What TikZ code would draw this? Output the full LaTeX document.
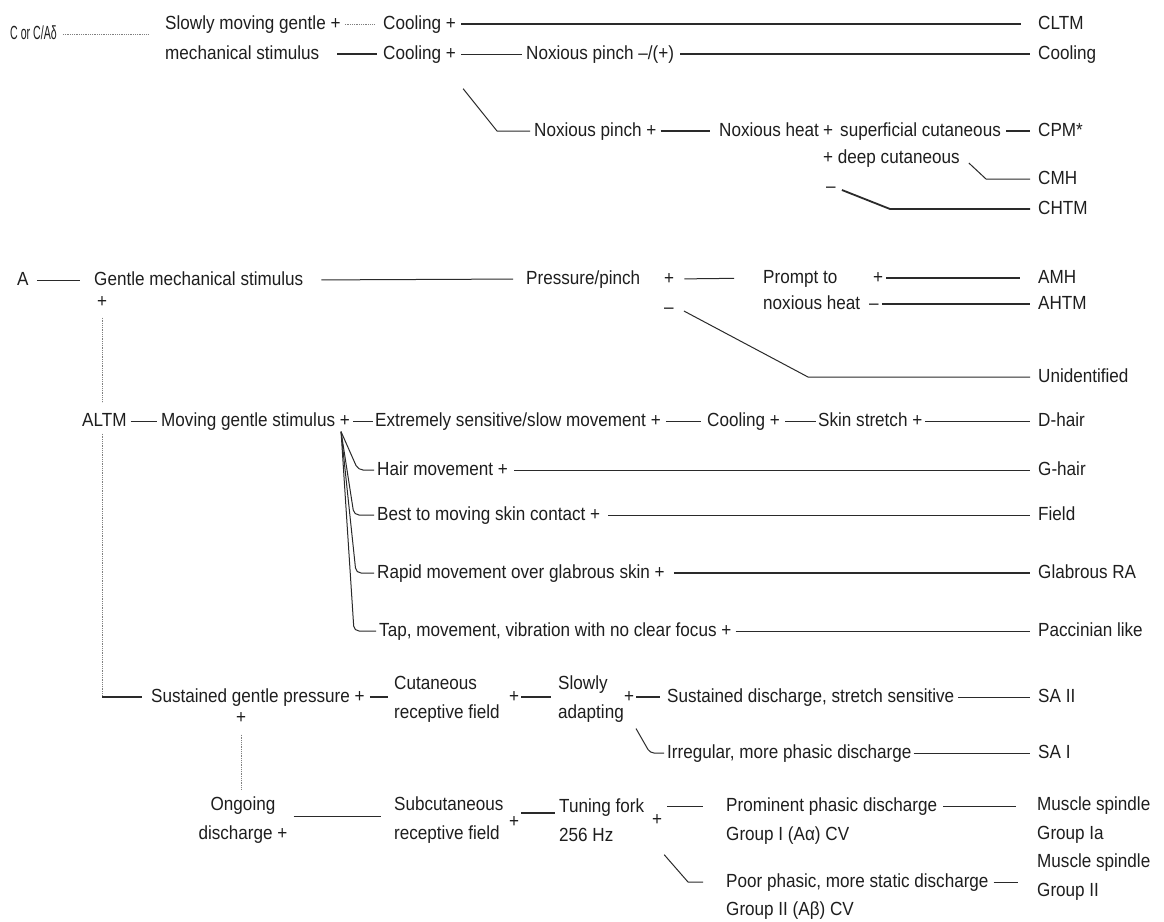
\documentclass[tikz,border=0pt]{standalone}
\usepackage{fontspec}
\setmainfont{Liberation Sans}[FakeStretch=0.9]
\usetikzlibrary{calc}
\definecolor{ink}{HTML}{1E1E1E}
\definecolor{lnk}{HTML}{2A2A2A}
\begin{document}
\begin{tikzpicture}[x=1pt,y=-1pt,
  lbl/.style={anchor=west,inner sep=0pt,text height=13.5pt,text depth=3.5pt,font=\fontsize{19}{29}\selectfont,text=ink},
  lbl2/.style={anchor=west,inner sep=0pt,align=left,font=\fontsize{19}{29}\selectfont,text=ink},
  lblc/.style={anchor=center,inner sep=0pt,align=center,font=\fontsize{19}{29}\selectfont,text=ink},
  ln/.style={draw=lnk,line width=1pt},
  lnb/.style={draw=lnk,line width=1.8pt},
  lnf/.style={draw=gray,line width=0.8pt,densely dotted},
]
\useasboundingbox[fill=white] (0,0) rectangle (1164,921);

% ---------- C block ----------
\node[lbl] (c) at (10,34) {\scalebox{0.62}[1]{C or C/Aδ}};
\node[lbl] (slow) at (165,24) {Slowly moving gentle +};
\node[lbl] (cool1) at (383,24) {Cooling +};
\node[lbl] (cltm) at (1038,24) {CLTM};
\node[lbl] (mech) at (165,54) {mechanical stimulus};
\node[lbl] (cool2) at (383,54) {Cooling +};
\node[lbl] (nox1) at (526,54) {Noxious pinch –/(+)};
\node[lbl] (coolR) at (1038,54) {Cooling};
\node[lbl] (nox2) at (534,131) {Noxious pinch +};
\node[lbl] (heat) at (719,131) {Noxious heat};
\node[lbl] (plusS) at (823,131) {+};
\node[lbl] (sup) at (840,131) {superficial cutaneous};
\node[lbl] (cpm) at (1038,131) {CPM*};
\node[lbl] (deep) at (823,158) {+ deep cutaneous};
\node[lbl] (cmh) at (1038,179) {CMH};
\node[lbl] (minus1) at (826,187) {–};
\node[lbl] (chtm) at (1038,209) {CHTM};

\draw[lnf,shorten <=6pt,shorten >=16pt] (c.east) -- (c.east -| slow.west);
\draw[lnf,shorten <=4pt,shorten >=8pt] (slow.east) -- (cool1.west);
\draw[lnb,shorten <=5pt,shorten >=17pt] (cool1.east) -- (cltm.west);
\draw[lnb,shorten <=18pt,shorten >=6pt] (mech.east) -- (cool2.west);
\draw[ln,shorten <=5pt,shorten >=4pt] (cool2.east) -- (nox1.west);
\draw[lnb,shorten <=6pt,shorten >=8pt] (nox1.east) -- (coolR.west);
\coordinate (d1a) at ($(cool2.south east)+(7,26)$);
\coordinate (d1b) at ($(nox2.west)+(-37,0)$);
\draw[ln,shorten >=4pt] (d1a) -- (d1b) -- (nox2.west);
\draw[lnb,shorten <=4pt,shorten >=9pt] (nox2.east) -- (heat.west);
\draw[lnb,shorten <=5pt,shorten >=8pt] (sup.east) -- (cpm.west);
\coordinate (d2a) at ($(deep.east)+(9,5)$);
\coordinate (d2b) at ($(cmh.west)+(-52,0)$);
\draw[ln,shorten >=8pt] (d2a) -- (d2b) -- (cmh.west);
\coordinate (d3a) at ($(minus1.east)+(6,3)$);
\coordinate (d3b) at ($(chtm.west)+(-148,0)$);
\draw[lnb,shorten >=8pt] (d3a) -- (d3b) -- (chtm.west);

% ---------- A block ----------
\node[lbl] (a) at (17,280) {A};
\node[lbl] (gms) at (94,280) {Gentle mechanical stimulus};
\node[lbl] (pp) at (526,279) {Pressure/pinch};
\node[lbl] (plusP) at (664,279) {+};
\node[lbl] (prompt) at (763,278) {Prompt to};
\node[lbl] (plusA) at (873,278) {+};
\node[lbl] (amh) at (1038,278) {AMH};
\node[lbl] (nh) at (763,304) {noxious heat};
\node[lbl] (minusA) at (869,304) {–};
\node[lbl] (ahtm) at (1038,304) {AHTM};
\node[lbl] (minusP) at (664,308) {–};
\node[lbl] (unid) at (1038,377) {Unidentified};
\node[lbl] (plusG) at (97,302) {+};

\draw[ln,shorten <=8pt,shorten >=14pt] (a.east) -- (gms.west);
\draw[ln,shorten <=18pt,shorten >=13pt] (gms.east) -- (pp.west);
\draw[ln,shorten <=10pt,shorten >=29pt] (plusP.east) -- (prompt.west);
\draw[lnb,shorten <=3pt,shorten >=18pt] (plusA.east) -- (amh.west);
\draw[lnb,shorten <=3pt,shorten >=8pt] (minusA.east) -- (ahtm.west);
\coordinate (d4a) at ($(minusP.east)+(10,3)$);
\coordinate (d4b) at ($(unid.west)+(-230,0)$);
\draw[ln,shorten >=8pt] (d4a) -- (d4b) -- (unid.west);

% ---------- ALTM block ----------
\node[lbl] (altm) at (82,421) {ALTM};
\node[lbl] (mgs) at (161,421) {Moving gentle stimulus +};
\node[lbl] (ext) at (375,421) {Extremely sensitive/slow movement +};
\node[lbl] (cool3) at (707,421) {Cooling +};
\node[lbl] (skin) at (818,421) {Skin stretch +};
\node[lbl] (dhair) at (1038,421) {D-hair};
\node[lbl] (hair) at (377,470) {Hair movement +};
\node[lbl] (ghair) at (1038,470) {G-hair};
\node[lbl] (best) at (377,515) {Best to moving skin contact +};
\node[lbl] (field) at (1038,515) {Field};
\node[lbl] (rapid) at (377,573) {Rapid movement over glabrous skin +};
\node[lbl] (glab) at (1038,573) {Glabrous RA};
\node[lbl] (tap) at (379,631) {Tap, movement, vibration with no clear focus +};
\node[lbl] (pacc) at (1038,631) {Paccinian like};

\draw[lnf,shorten <=7pt,shorten >=10pt] (plusG.south) -- (plusG.south |- altm.north);
\draw[ln,shorten <=4pt,shorten >=4pt] (altm.east) -- (mgs.west);
\draw[ln,shorten <=3pt,shorten >=2pt] (mgs.east) -- (ext.west);
\draw[ln,shorten <=5pt,shorten >=6pt] (ext.east) -- (cool3.west);
\draw[ln,shorten <=5pt,shorten >=2pt] (cool3.east) -- (skin.west);
\draw[ln,shorten <=3pt,shorten >=8pt] (skin.east) -- (dhair.west);
\draw[ln,shorten <=6pt,shorten >=8pt] (hair.east) -- (ghair.west);
\draw[ln,shorten <=8pt,shorten >=8pt] (best.east) -- (field.west);
\draw[lnb,shorten <=9pt,shorten >=8pt] (rapid.east) -- (glab.west);
\draw[ln,shorten <=4pt,shorten >=8pt] (tap.east) -- (pacc.west);
\coordinate (apex) at ($(mgs.south east)+(-9,2)$);
\coordinate (fb1) at ($(hair.west)+(-19,0)$);
\coordinate (fb2) at ($(best.west)+(-23,0)$);
\coordinate (fb3) at ($(rapid.west)+(-21,0)$);
\coordinate (fb4) at ($(tap.west)+(-25,0)$);
\draw[ln,rounded corners=5pt,shorten >=3pt] (apex) -- (fb1) -- (hair.west);
\draw[ln,rounded corners=5pt,shorten >=3pt] (apex) -- (fb2) -- (best.west);
\draw[ln,rounded corners=5pt,shorten >=3pt] (apex) -- (fb3) -- (rapid.west);
\draw[ln,rounded corners=5pt,shorten >=3pt] (apex) -- (fb4) -- (tap.west);

% ---------- Sustained block ----------
\node[lbl] (sus) at (151,697) {Sustained gentle pressure +};
\node[lbl2] (cut) at (394,699) {Cutaneous\\receptive field};
\node[lbl] (plusC) at (509,697) {+};
\node[lbl2] (slowa) at (558,699) {Slowly\\adapting};
\node[lbl] (plusSl) at (624,697) {+};
\node[lbl] (sdis) at (667,697) {Sustained discharge, stretch sensitive};
\node[lbl] (sa2) at (1038,697) {SA II};
\node[lbl] (irr) at (667,753) {Irregular, more phasic discharge};
\node[lbl] (sa1) at (1038,753) {SA I};
\node[lbl] (plusSus) at (236,718) {+};

\coordinate (v2) at (altm.south -| plusG.south);
\draw[lnf,shorten <=4pt] (v2) -- (v2 |- sus.west);
\draw[lnb,shorten >=9pt] (v2 |- sus.west) -- (sus.west);
\draw[lnb,shorten <=5pt,shorten >=6pt] (sus.east) -- (cut.west |- sus.east);
\draw[lnb,shorten <=2pt,shorten >=7pt] (plusC.east) -- (slowa.west |- plusC.east);
\draw[lnb,shorten <=2pt,shorten >=7pt] (plusSl.east) -- (sdis.west);
\draw[ln,shorten <=4pt,shorten >=8pt] (sdis.east) -- (sa2.west);
\coordinate (d5a) at ($(slowa.south east)+(12,6)$);
\coordinate (d5b) at ($(irr.west)+(-17,0)$);
\draw[ln,rounded corners=4pt,shorten >=3pt] (d5a) -- (d5b) -- (irr.west);
\draw[ln,shorten <=2pt,shorten >=8pt] (irr.east) -- (sa1.west);

% ---------- Bottom block ----------
\node[lblc] (ong) at (243,820) {Ongoing\\discharge +};
\node[lbl2] (subc) at (394,820) {Subcutaneous\\receptive field};
\node[lbl] (plusSub) at (509,822) {+};
\node[lbl2] (tun) at (559,820) {Tuning fork\\256 Hz};
\node[lbl] (plusT) at (652,820) {+};
\node[lbl] (prom) at (726,806) {Prominent phasic discharge};
\node[lbl] (g1) at (726,835) {Group I (Aα) CV};
\node[lbl2] (ms1) at (1037,820) {Muscle spindle\\Group Ia};
\node[lbl] (poor) at (726,882) {Poor phasic, more static discharge};
\node[lbl] (g2) at (726,910) {Group II (Aβ) CV};
\node[lbl2] (ms2) at (1037,877) {Muscle spindle\\Group II};

\draw[lnf,shorten <=8pt,shorten >=6pt] (plusSus.south) -- (plusSus.south |- ong.north);
\draw[ln,shorten <=6pt,shorten >=13pt] ($(ong.east)+(0,-4)$) -- ($(subc.west)+(0,-4)$);
\draw[lnb,shorten <=2pt,shorten >=4pt] ($(plusSub.east)+(0,-9)$) -- ($(tun.west)+(0,-7)$);
\draw[ln,shorten <=5pt,shorten >=23pt] (plusT.east |- prom.west) -- (prom.west);
\draw[ln,shorten <=6pt,shorten >=21pt] (prom.east) -- (ms1.west |- prom.east);
\coordinate (d6a) at ($(plusT.south)+(7,26)$);
\coordinate (d6b) at ($(poor.west)+(-38,0)$);
\draw[ln,shorten >=23pt] (d6a) -- (d6b) -- (poor.west);
\draw[ln,shorten <=5pt,shorten >=19pt] (poor.east) -- (ms2.west |- poor.east);
\end{tikzpicture}
\end{document}
